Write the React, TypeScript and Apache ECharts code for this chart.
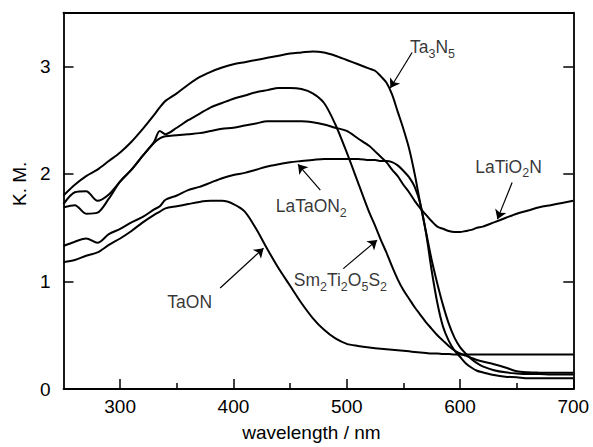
import React, { useEffect, useRef } from 'react';
import * as echarts from 'echarts';

const wavelengths = [250, 260, 270, 280, 290, 300, 310, 320, 330, 335, 340, 350, 360, 370, 380, 390, 400, 410, 420, 430, 440, 450, 460, 470, 480, 490, 500, 510, 520, 525, 530, 535, 540, 545, 550, 555, 560, 565, 570, 575, 580, 585, 590, 595, 600, 605, 610, 615, 620, 630, 640, 650, 660, 670, 680, 690, 700];

const ta3n5 = [1.80, 1.90, 1.98, 2.04, 2.12, 2.20, 2.30, 2.42, 2.55, 2.62, 2.68, 2.75, 2.83, 2.90, 2.95, 2.99, 3.02, 3.04, 3.06, 3.08, 3.10, 3.12, 3.13, 3.14, 3.13, 3.10, 3.06, 3.02, 2.98, 2.96, 2.91, 2.85, 2.74, 2.58, 2.42, 2.24, 2.00, 1.72, 1.46, 1.20, 0.98, 0.78, 0.61, 0.48, 0.39, 0.33, 0.28, 0.24, 0.21, 0.175, 0.155, 0.145, 0.14, 0.14, 0.135, 0.135, 0.135];

const sm2ti2o5s2 = [1.69, 1.71, 1.63, 1.64, 1.77, 1.93, 2.04, 2.17, 2.30, 2.40, 2.37, 2.43, 2.50, 2.56, 2.62, 2.66, 2.70, 2.73, 2.76, 2.78, 2.80, 2.80, 2.79, 2.75, 2.66, 2.46, 2.20, 1.92, 1.64, 1.52, 1.39, 1.27, 1.14, 1.02, 0.92, 0.84, 0.76, 0.69, 0.62, 0.56, 0.50, 0.45, 0.40, 0.36, 0.33, 0.31, 0.29, 0.27, 0.255, 0.23, 0.20, 0.165, 0.155, 0.152, 0.15, 0.15, 0.15];

const latio2n = [1.72, 1.83, 1.84, 1.75, 1.81, 1.93, 2.04, 2.17, 2.29, 2.33, 2.35, 2.36, 2.37, 2.38, 2.40, 2.42, 2.43, 2.45, 2.47, 2.49, 2.49, 2.49, 2.49, 2.48, 2.46, 2.43, 2.40, 2.33, 2.26, 2.21, 2.16, 2.11, 2.04, 1.98, 1.90, 1.83, 1.75, 1.68, 1.62, 1.56, 1.51, 1.49, 1.47, 1.46, 1.46, 1.47, 1.48, 1.50, 1.51, 1.55, 1.59, 1.63, 1.66, 1.69, 1.71, 1.73, 1.75];

const lataon2 = [1.33, 1.37, 1.40, 1.36, 1.44, 1.49, 1.55, 1.60, 1.67, 1.70, 1.76, 1.80, 1.85, 1.88, 1.92, 1.96, 1.99, 2.01, 2.04, 2.07, 2.09, 2.11, 2.12, 2.13, 2.14, 2.14, 2.14, 2.14, 2.13, 2.13, 2.12, 2.12, 2.11, 2.08, 2.03, 1.97, 1.88, 1.72, 1.45, 1.10, 0.80, 0.58, 0.45, 0.36, 0.30, 0.24, 0.20, 0.17, 0.155, 0.13, 0.115, 0.11, 0.10, 0.10, 0.10, 0.10, 0.10];

const taon = [1.18, 1.20, 1.24, 1.27, 1.34, 1.40, 1.47, 1.55, 1.62, 1.65, 1.68, 1.70, 1.72, 1.74, 1.75, 1.75, 1.72, 1.65, 1.49, 1.30, 1.12, 0.96, 0.80, 0.66, 0.55, 0.47, 0.42, 0.40, 0.385, 0.38, 0.375, 0.37, 0.365, 0.36, 0.355, 0.35, 0.345, 0.34, 0.335, 0.33, 0.33, 0.325, 0.325, 0.32, 0.32, 0.32, 0.32, 0.32, 0.32, 0.32, 0.32, 0.32, 0.32, 0.32, 0.32, 0.32, 0.32];

const xMajorTicks = [300, 400, 500, 600, 700];
const xMinorTicks = [350, 450, 550, 650];
const yLabels = [0, 1, 2, 3];
const yTicks = [1, 2, 3];

const labelTexts = ['{n|Ta}{s|3}{n|N}{s|5}', '{n|LaTiO}{s|2}{n|N}', '{n|LaTaON}{s|2}', '{n|Sm}{s|2}{n|Ti}{s|2}{n|O}{s|5}{n|S}{s|2}', '{n|TaON}'];
const labelX = [575.7, 642.8, 468.7, 494.4, 361.4];
const labelY = [3.17, 2.06, 1.69, 1.00, 0.80];
const arrowFrom = [[557.7, 3.13], [646, 1.92], [476.7, 1.85], [497, 1.12], [388.3, 0.94]];
const arrowTo = [[538.5, 2.80], [633, 1.58], [457, 2.09], [526.8, 1.385], [426.6, 1.31]];

const FONT = 'Liberation Sans, Arial, Helvetica, sans-serif';

function makeSeries(name: string, values: number[]) {
  return {
    name,
    type: 'line',
    data: wavelengths.map((w, i) => [w, values[i]]),
    showSymbol: false,
    smooth: 0.3,
    lineStyle: { color: '#000', width: 2 },
    itemStyle: { color: '#000' },
    silent: true,
  };
}

export default function App() {
  const ref = useRef<HTMLDivElement>(null);
  useEffect(() => {
    const chart = echarts.init(ref.current!, null, { renderer: 'svg' });
    const axisLine = { show: true, lineStyle: { color: '#000', width: 1.8 } };
    const option: any = {
      animation: false,
      backgroundColor: '#fff',
      textStyle: { fontFamily: FONT },
      grid: { left: 63.5, right: 19.7, top: 12.7, bottom: 55.3, containLabel: false },
      xAxis: [
        {
          type: 'value', position: 'bottom', min: 250, max: 700,
          axisLine,
          axisTick: { show: true, inside: true, length: 10, customValues: xMajorTicks, lineStyle: { color: '#000', width: 1.5 } },
          axisLabel: { show: true, customValues: xMajorTicks, color: '#000', fontSize: 19, fontFamily: FONT, margin: 8 },
          splitLine: { show: false },
          name: 'wavelength / nm', nameLocation: 'middle', nameGap: 34,
          nameTextStyle: { color: '#000', fontSize: 19, fontFamily: FONT, padding: [0, 14, 0, 0] },
        },
        {
          type: 'value', position: 'bottom', min: 250, max: 700,
          axisLine: { show: false },
          axisTick: { show: true, inside: true, length: 6, customValues: xMinorTicks, lineStyle: { color: '#000', width: 1.5 } },
          axisLabel: { show: false },
          splitLine: { show: false },
        },
        {
          type: 'value', position: 'top', min: 250, max: 700,
          axisLine,
          axisTick: { show: false },
          axisLabel: { show: false },
          splitLine: { show: false },
        },
      ],
      yAxis: [
        {
          type: 'value', position: 'left', min: 0, max: 3.5,
          axisLine,
          axisTick: { show: true, inside: true, length: 10, customValues: yTicks, lineStyle: { color: '#000', width: 1.5 } },
          axisLabel: { show: true, customValues: yLabels, color: '#000', fontSize: 19, fontFamily: FONT, margin: 13 },
          splitLine: { show: false },
          name: 'K. M.', nameLocation: 'middle', nameGap: 34,
          nameTextStyle: { color: '#000', fontSize: 19, fontFamily: FONT, padding: [0, 0, 0, 34] },
        },
        {
          type: 'value', position: 'right', min: 0, max: 3.5,
          axisLine,
          axisTick: { show: true, inside: true, length: 10, customValues: yTicks, lineStyle: { color: '#000', width: 1.5 } },
          axisLabel: { show: false },
          splitLine: { show: false },
        },
      ],
      series: [
        makeSeries('Ta3N5', ta3n5),
        makeSeries('Sm2Ti2O5S2', sm2ti2o5s2),
        makeSeries('LaTiO2N', latio2n),
        makeSeries('LaTaON2', lataon2),
        makeSeries('TaON', taon),
        {
          name: 'labels',
          type: 'scatter',
          silent: true,
          symbolSize: 0,
          data: labelX.map((x, i) => ({ value: [x, labelY[i]], label: { formatter: labelTexts[i] } })),
          label: {
            show: true,
            position: 'inside',
            color: '#000',
            rich: {
              n: { fontSize: 17.5, fontFamily: FONT, color: '#000', lineHeight: 20, verticalAlign: 'top' },
              s: { fontSize: 12.5, fontFamily: FONT, color: '#000', lineHeight: 20, verticalAlign: 'top', padding: [9, 0, 0, 0] },
            },
          },
          markLine: {
            silent: true,
            symbol: ['none', 'arrow'],
            symbolSize: 9,
            label: { show: false },
            lineStyle: { color: '#000', width: 1.2, type: 'solid' },
            emphasis: { disabled: true },
            data: arrowFrom.map((f, i) => [{ coord: f }, { coord: arrowTo[i] }]),
          },
        },
      ],
    };
    chart.setOption(option);
    return () => chart.dispose();
  }, []);
  return <div ref={ref} style={{ position: 'absolute', left: 0, top: 0, width: 593, height: 447, background: '#fff' }} />;
}
